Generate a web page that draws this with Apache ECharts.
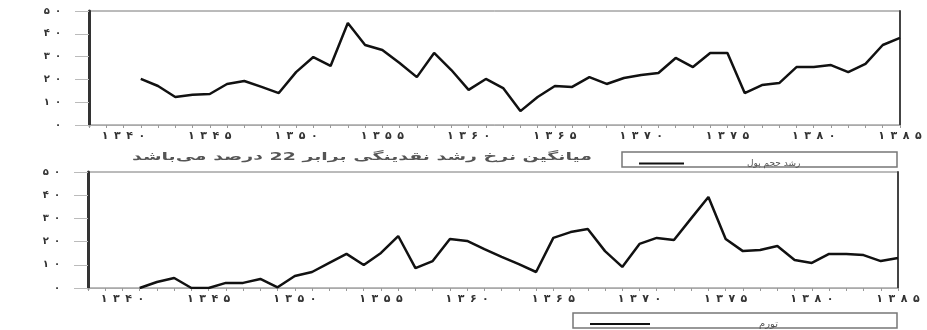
<!DOCTYPE html>
<html>
<head>
<meta charset="utf-8">
<script src="https://cdn.jsdelivr.net/npm/echarts@6/dist/echarts.min.js"></script>
<style>
  html, body { margin: 0; padding: 0; background: #fff; }
  #chart { width: 927px; height: 330px; }
</style>
</head>
<body>
<div id="chart"></div>
<script>
// سال‌ها ۱۳۳۸ تا ۱۳۸۵
const years = [];
for (let y = 1338; y <= 1385; y++) years.push(String(y));

const yTicks = [0, 10, 20, 30, 40, 50];

// رشد حجم پول (۱۳۳۸..۱۳۸۵)
const moneyGrowth = [null, null, null,
  20.2, 17.1, 12.3, 13.3, 13.6, 18, 19.3, 16.7, 14, 23.2,
  29.8, 25.9, 44.7, 35.1, 32.9, 27.2, 21, 31.6, 24.1, 15.4,
  20.2, 16.2, 6.1, 12.3, 17.1, 16.7, 21, 18, 20.6, 21.9,
  22.8, 29.4, 25.4, 31.6, 31.6, 14, 17.5, 18.4, 25.4, 25.4,
  26.3, 23.2, 26.8, 35.1, 38.2];

// تورم (۱۳۳۸..۱۳۸۵)
const inflation = [null, null, null,
  0, 2.6, 4.3, 0, 0, 2.2, 2.2, 3.9, 0.3, 5.2,
  6.9, 10.8, 14.7, 9.9, 15.1, 22.4, 8.6, 11.6, 21.1, 20.3,
  16.8, 13.4, 10.3, 6.9, 21.6, 24.1, 25.4, 15.9, 9.1, 19,
  21.6, 20.7, 30, 39.2, 21.1, 15.9, 16.4, 18.1, 12.1, 10.8,
  14.7, 14.7, 14.2, 11.6, 12.9];

const noteText = 'میانگین نرخ رشد نقدینگی برابر 22 درصد می‌باشد';

// ارقام فارسی با فاصله میان رقم‌ها (مثل تصویر)
const fa = v => String(v).split('').map(d => '۰۱۲۳۴۵۶۷۸۹'[d]).join('\u2002');
const font = 'DejaVu Sans';

const chart = echarts.init(document.getElementById('chart'));

function xAxisFor(gridIndex) {
  return {
    type: 'category', gridIndex: gridIndex, data: years, boundaryGap: false,
    axisLine: { lineStyle: { color: '#aaa', width: 1 } },
    axisTick: { interval: 0, length: 3, lineStyle: { color: '#999' } },
    axisLabel: {
      interval: (i, v) => Number(v) % 5 === 0,
      formatter: v => fa(v),
      fontFamily: font, fontSize: 11, fontWeight: 'bold', color: '#333', margin: 6
    },
    splitLine: { show: false }
  };
}

function yAxisFor(gridIndex) {
  return {
    type: 'value', gridIndex: gridIndex, min: yTicks[0], max: yTicks[yTicks.length - 1], interval: 10,
    axisLine: { show: true, lineStyle: { color: '#333', width: 3 } },
    axisTick: { show: true, length: 14, lineStyle: { color: '#bbb' } },
    axisLabel: { formatter: v => fa(v), fontFamily: font, fontSize: 10, fontWeight: 'bold', color: '#333', margin: 28 },
    splitLine: { show: false }
  };
}

function rightFrame(gridIndex) {
  return {
    type: 'value', gridIndex: gridIndex, position: 'right', min: 0, max: 50,
    axisLine: { show: true, lineStyle: { color: '#444', width: 2 } },
    axisTick: { show: false }, axisLabel: { show: false }, splitLine: { show: false }
  };
}

const option = {
  animation: false,
  backgroundColor: '#fff',
  grid: [
    { left: 89, right: 27, top: 11, bottom: 205, show: true, borderColor: '#777', borderWidth: 1 },
    { left: 88, right: 29, top: 172, bottom: 42, show: true, borderColor: '#777', borderWidth: 1 }
  ],
  xAxis: [xAxisFor(0), xAxisFor(1)],
  yAxis: [yAxisFor(0), yAxisFor(1), rightFrame(0), rightFrame(1)],
  legend: [
    {
      data: ['رشد حجم پول'], left: 634, top: 154, icon: 'rect', itemWidth: 45, itemHeight: 2,
      textStyle: { fontFamily: font, fontSize: 9, color: '#555', padding: [0, 0, 0, 58] }
    },
    {
      data: ['تورم'], left: 585, top: 314, icon: 'rect', itemWidth: 60, itemHeight: 2,
      textStyle: { fontFamily: font, fontSize: 10, color: '#555', padding: [0, 0, 0, 104] }
    }
  ],
  graphic: [
    { type: 'rect', shape: { x: 622, y: 152, width: 275, height: 15 }, style: { fill: 'none', stroke: '#777', lineWidth: 1.5 } },
    { type: 'rect', shape: { x: 573, y: 313, width: 324, height: 15 }, style: { fill: 'none', stroke: '#777', lineWidth: 1.5 } },
    {
      type: 'text', x: 592, y: 157, scaleX: 1.72,
      style: { text: noteText, fontFamily: font, fontSize: 11, fontWeight: 'bold', fill: '#555', align: 'right', verticalAlign: 'middle' }
    }
  ],
  series: [
    {
      name: 'رشد حجم پول', type: 'line', xAxisIndex: 0, yAxisIndex: 0, data: moneyGrowth,
      showSymbol: false, lineStyle: { color: '#111', width: 2.5 }, itemStyle: { color: '#111' }
    },
    {
      name: 'تورم', type: 'line', xAxisIndex: 1, yAxisIndex: 1, data: inflation,
      showSymbol: false, lineStyle: { color: '#111', width: 2.5 }, itemStyle: { color: '#111' }
    }
  ]
};

chart.setOption(option);
</script>
</body>
</html>
